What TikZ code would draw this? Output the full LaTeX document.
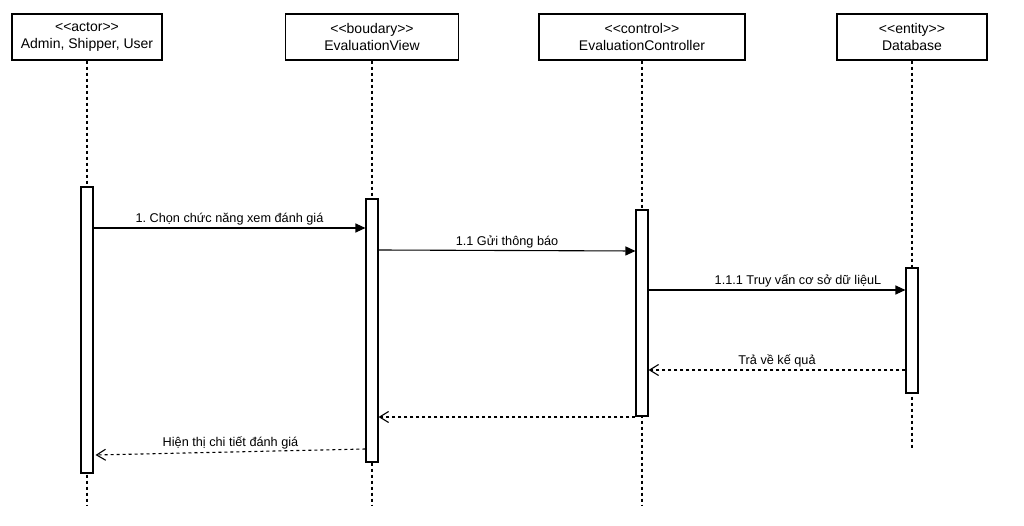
\documentclass[tikz,border=0pt]{standalone}
\usepackage{fontspec}
\setmainfont{Liberation Sans}
\usetikzlibrary{arrows.meta}
\frenchspacing
\newcommand{\stereo}[1]{<{}<#1>{}>}
\begin{document}
\begin{tikzpicture}[x=1pt,y=-1pt,
  every node/.style={font=\fontsize{14}{17}\selectfont},
  headbox/.style={draw,line width=1.1pt,minimum width=#1,minimum height=46pt,align=center,inner sep=0pt},
  lifeline/.style={line width=1.1pt,dash pattern=on 3pt off 3pt},
  actbox/.style={draw,fill=white,line width=1.1pt,minimum width=12pt,inner sep=0pt},
  callmsg/.style={line width=1.1pt,-{Triangle[length=10pt,width=9pt]}},
  retmsg/.style={line width=1.1pt,dash pattern=on 3pt off 3pt,-{Straight Barb[length=9pt,width=11pt]}},
  msglabel/.style={above,inner sep=2pt,font=\fontsize{12.7}{15}\selectfont}]
\useasboundingbox (0,0) rectangle (1024,526);

% participant heads
\node[headbox=150pt] (h1) at (87,37) {\stereo{actor}\\Admin, Shipper, User};
\node[headbox=173pt] (h2) at (372,37) {\stereo{boudary}\\EvaluationView};
\node[headbox=206pt] (h3) at (642,37) {\stereo{control}\\EvaluationController};
\node[headbox=150pt] (h4) at (912,37) {\stereo{entity}\\Database};

% lifeline ends
\coordinate (e1) at (87,505);
\coordinate (e2) at (372,505);
\coordinate (e3) at (642,505);
\coordinate (e4) at (912,450);

\draw[lifeline] (h1.south) -- (e1);
\draw[lifeline] (h2.south) -- (e2);
\draw[lifeline] (h3.south) -- (e3);
\draw[lifeline] (h4.south) -- (e4);

% activation bars
\node[actbox,minimum height=286pt] (a1) at (87,330) {};
\node[actbox,minimum height=263pt] (a2) at (372,330.5) {};
\node[actbox,minimum height=206pt] (a3) at (642,313) {};
\node[actbox,minimum height=125pt] (a4) at (912,330.5) {};

% messages
\draw[callmsg] (a1.east |- 0,228) -- node[msglabel] {1. Chọn chức năng xem đánh giá} (a2.west |- 0,228);
\draw[callmsg] (a2.east |- 0,250) -- node[msglabel] {1.1 Gửi thông báo} (a3.west |- 0,251);
\draw[callmsg] (a3.east |- 0,290) -- node[msglabel,xshift=21pt] {1.1.1 Truy vấn cơ sở dữ liệuL} (a4.west |- 0,290);
\draw[retmsg] (a4.west |- 0,370) -- node[msglabel,pos=0.5] {Trả về kế quả} (a3.east |- 0,370);
\draw[retmsg] (a3.west |- 0,417) -- (a2.east |- 0,417);
\draw[retmsg] (a2.west |- 0,449) -- node[msglabel] {Hiện thị chi tiết đánh giá} ([xshift=2pt]a1.east |- 0,455);
\end{tikzpicture}
\end{document}
